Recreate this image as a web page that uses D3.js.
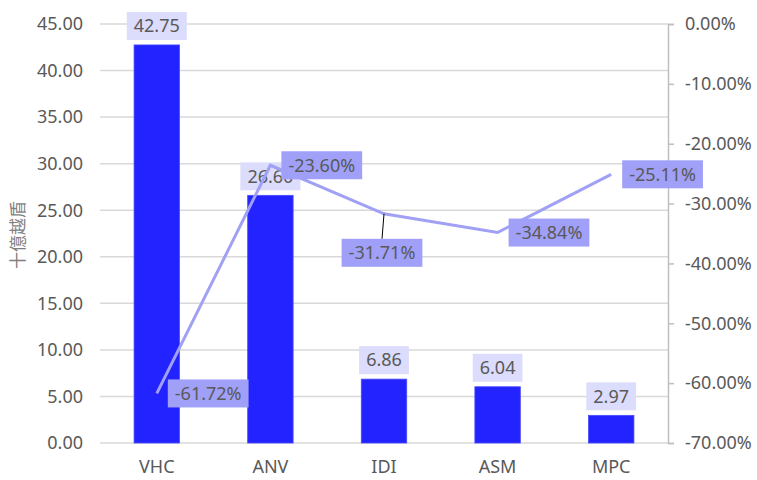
<!DOCTYPE html>
<meta charset="utf-8">
<style>
    body { margin: 0; background: #fff; }
    text {
        font-family: "Noto Sans", sans-serif;
        font-size: 18px;
        fill: #595959;
    }
    .grid line { stroke: #d9d9d9; stroke-width: 1.5px; }
</style>
<svg width="757" height="480"></svg>
<script src="https://d3js.org/d3.v7.min.js"></script>
<script>
    var categories = ["VHC", "ANV", "IDI", "ASM", "MPC"];
    var revenue = [42.75, 26.60, 6.86, 6.04, 2.97];
    var change = [-61.72, -23.60, -31.71, -34.84, -25.11];
    var leftTicks = [0, 5, 10, 15, 20, 25, 30, 35, 40, 45];
    var rightTicks = [0, -10, -20, -30, -40, -50, -60, -70];
    // where each line label sits relative to its point
    var labelSide = ["right", "right", "below", "right", "right"];

    var svg = d3.select("svg"),
        plotLeft = 100, plotRight = 668, plotTop = 24, plotBottom = 443;

    var x = d3.scaleBand().domain(categories).range([plotLeft, plotRight]).paddingInner(0.6).paddingOuter(0.3);
    var y = d3.scaleLinear().domain([0, 45]).range([plotBottom, plotTop]);
    var y2 = d3.scaleLinear().domain([-70, 0]).range([plotBottom, plotTop]);

    // gridlines
    svg.append("g")
        .attr("class", "grid")
        .selectAll("line")
        .data(leftTicks)
        .enter().append("line")
        .attr("x1", plotLeft)
        .attr("x2", plotRight)
        .attr("y1", function(d) { return y(d); })
        .attr("y2", function(d) { return y(d); });

    // left axis labels
    svg.append("g")
        .selectAll("text")
        .data(leftTicks)
        .enter().append("text")
        .attr("x", 83)
        .attr("y", function(d) { return y(d); })
        .attr("dy", "0.35em")
        .attr("text-anchor", "end")
        .text(function(d) { return d.toFixed(2); });

    // right axis
    var rAxis = svg.append("g")
        .attr("transform", "translate(" + plotRight + ",0)")
        .call(d3.axisRight(y2).tickValues(rightTicks).tickSize(6).tickPadding(11)
            .tickFormat(function(d) { return d.toFixed(2) + "%"; }));
    rAxis.select(".domain").attr("stroke", "#bfbfbf").attr("stroke-width", 1.5);
    rAxis.selectAll(".tick line").attr("stroke", "#bfbfbf").attr("stroke-width", 1.5);
    rAxis.selectAll(".tick text")
        .attr("fill", "#595959")
        .style("font-size", "18px")
        .style("font-family", "Noto Sans, sans-serif");

    // category labels
    svg.append("g")
        .selectAll("text")
        .data(categories)
        .enter().append("text")
        .attr("x", function(d) { return x(d) + x.bandwidth() / 2; })
        .attr("y", 467)
        .attr("dy", "0.35em")
        .attr("text-anchor", "middle")
        .text(function(d) { return d; });

    // y title
    svg.append("text")
        .attr("transform", "translate(18,235) rotate(-90)")
        .attr("text-anchor", "middle")
        .attr("dy", "0.35em")
        .style("font-size", "17px")
        .style("fill", "#7f7f7f")
        .style("font-family", "Noto Sans CJK TC, sans-serif")
        .text("十億越盾");

    // bars
    svg.append("g")
        .selectAll("rect")
        .data(revenue)
        .enter().append("rect")
        .attr("x", function(d, i) { return x(categories[i]); })
        .attr("width", x.bandwidth())
        .attr("y", function(d) { return y(d); })
        .attr("height", function(d) { return plotBottom - y(d); })
        .attr("fill", "#2323ff")
        .attr("stroke", "#4a4aff")
        .attr("stroke-width", 0.8);

    function labelBox(g, cx, cy, txt, fill) {
        var t = g.append("text")
            .attr("x", cx)
            .attr("y", cy)
            .attr("dy", "0.35em")
            .attr("text-anchor", "middle")
            .text(txt);
        var w = t.node().getComputedTextLength() + 14;
        g.insert("rect", "text")
            .attr("x", cx - w / 2)
            .attr("y", cy - 14)
            .attr("width", w)
            .attr("height", 28)
            .attr("fill", fill);
        return w;
    }

    // bar value labels
    revenue.forEach(function(d, i) {
        var g = svg.append("g");
        labelBox(g, x(categories[i]) + x.bandwidth() / 2, y(d) - 19, d.toFixed(2), "#dcdcfc");
    });

    // line
    var line = d3.line()
        .x(function(d, i) { return x(categories[i]) + x.bandwidth() / 2; })
        .y(function(d) { return y2(d); });

    svg.append("path")
        .datum(change)
        .attr("d", line)
        .attr("fill", "none")
        .attr("stroke", "#a0a0f5")
        .attr("stroke-width", 3);

    // line value labels
    change.forEach(function(d, i) {
        var px = x(categories[i]) + x.bandwidth() / 2,
            py = y2(d),
            g = svg.append("g");
        if (labelSide[i] === "below") {
            g.append("line")
                .attr("x1", px).attr("y1", py)
                .attr("x2", px - 2).attr("y2", py + 25)
                .attr("stroke", "#000").attr("stroke-width", 1);
            labelBox(g, px - 2, py + 39, d.toFixed(2) + "%", "#a0a0f8");
        } else {
            var tmp = svg.append("text").text(d.toFixed(2) + "%");
            var w = tmp.node().getComputedTextLength() + 14;
            tmp.remove();
            labelBox(g, px + 11 + w / 2, py, d.toFixed(2) + "%", "#a0a0f8");
        }
    });
</script>
